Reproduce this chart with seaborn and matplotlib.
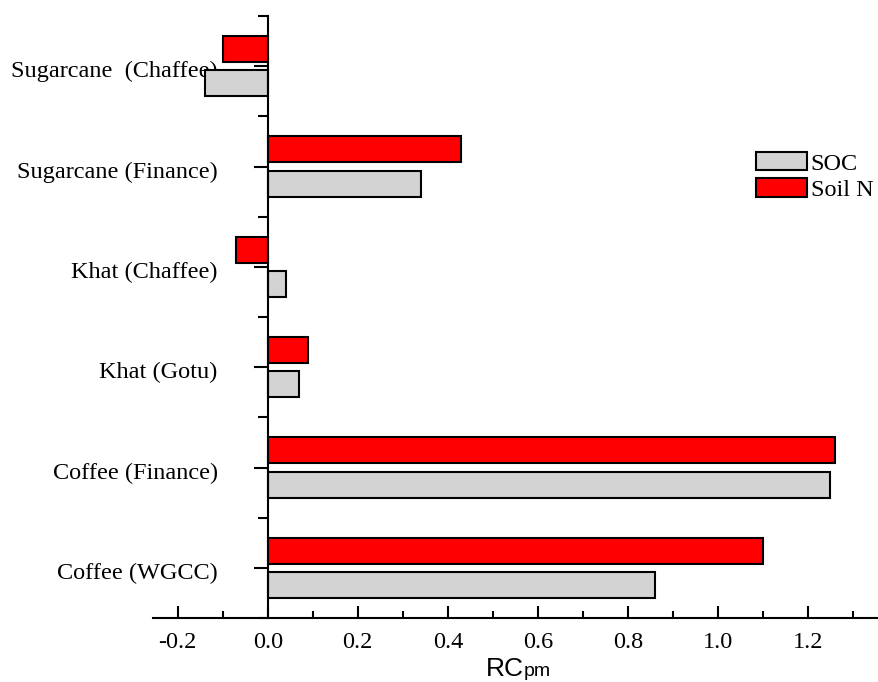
import numpy as np
import pandas as pd
import matplotlib
matplotlib.use("Agg")
import matplotlib.pyplot as plt
import matplotlib.transforms as mtransforms
import seaborn as sns
from matplotlib.ticker import FixedLocator

# data
sites = ["Sugarcane  (Chaffee)", "Sugarcane (Finance)", "Khat (Chaffee)",
         "Khat (Gotu)", "Coffee (Finance)", "Coffee (WGCC)"]
soc = [-0.14, 0.34, 0.04, 0.07, 1.25, 0.86]
soil_n = [-0.10, 0.43, -0.07, 0.09, 1.26, 1.10]
series = ["SOC", "Soil N"]
colors = {"SOC": "#D3D3D3", "Soil N": "#FF0000"}
xticks = [-0.2, 0.0, 0.2, 0.4, 0.6, 0.8, 1.0, 1.2]

sns.set_theme(style="white")
plt.rcParams["font.family"] = ["Liberation Serif", "DejaVu Serif"]
plt.rcParams["text.color"] = "black"
plt.rcParams["xtick.color"] = "black"
plt.rcParams["ytick.color"] = "black"

df = pd.DataFrame({
    "site": sites * 2,
    "value": soil_n + soc,
    "series": ["Soil N"] * len(sites) + ["SOC"] * len(sites),
})

fig = plt.figure(figsize=(8.79, 6.82), dpi=100)
ax = fig.add_axes([153 / 879, 64 / 682, (879 - 153) / 879, (618 - 16) / 682])

sns.barplot(data=df, y="site", x="value", hue="series", order=sites,
            hue_order=["Soil N", "SOC"], palette=colors, orient="h",
            width=0.68, gap=0.235, edgecolor="black", linewidth=1.5,
            saturation=1, errorbar=None, ax=ax)

ax.set_xlim(-0.255, 1.358)
ax.set_ylim(5.5, -0.5)

for s in ["top", "right"]:
    ax.spines[s].set_visible(False)
ax.spines["left"].set_position(("data", 0))
for s in ["left", "bottom"]:
    ax.spines[s].set_linewidth(1.5)
    ax.spines[s].set_color("black")

ax.set_xticks(xticks)
ax.set_xticklabels([f"{v:.1f}" for v in xticks])
ax.xaxis.set_minor_locator(FixedLocator(np.arange(-0.2, 1.36, 0.1)))
ax.tick_params(axis="x", which="major", direction="in", length=9, width=1.5,
               labelsize=17.5, pad=10, bottom=True, labelcolor="black")
ax.tick_params(axis="x", which="minor", direction="in", length=5, width=1.5,
               bottom=True)

ax.yaxis.set_minor_locator(FixedLocator(np.arange(-0.5, 5.6, 1.0)))
ax.tick_params(axis="y", which="major", direction="out", length=10, width=1.5,
               labelsize=17.5, pad=26, left=True, labelcolor="black")
ax.tick_params(axis="y", which="minor", direction="out", length=7, width=1.5,
               left=True)
shift = mtransforms.ScaledTranslation(0, -3 / 100, fig.dpi_scale_trans)
for lab in ax.get_yticklabels():
    lab.set_transform(lab.get_transform() + shift)

ax.set_ylabel("")
ax.set_xlabel("")
fig.text(523.5 / 879, 1 - 676 / 682, "RC", fontsize=19,
         family="Liberation Sans", ha="right", va="baseline", color="black")
fig.text(524 / 879, 1 - 676 / 682, "pm", fontsize=14,
         family="Liberation Sans", ha="left", va="baseline", color="black")

handles, labels = ax.get_legend_handles_labels()
order = [labels.index(s) for s in series]
ax.legend([handles[i] for i in order], series, loc="upper left",
          bbox_to_anchor=(751 / 879, 1 - 147 / 682), bbox_transform=fig.transFigure,
          frameon=False, fontsize=17.5, handlelength=2.1, handleheight=0.8,
          labelspacing=0.15, handletextpad=0.15, borderpad=0.2, borderaxespad=0)

fig.savefig("out.png", dpi=100)
